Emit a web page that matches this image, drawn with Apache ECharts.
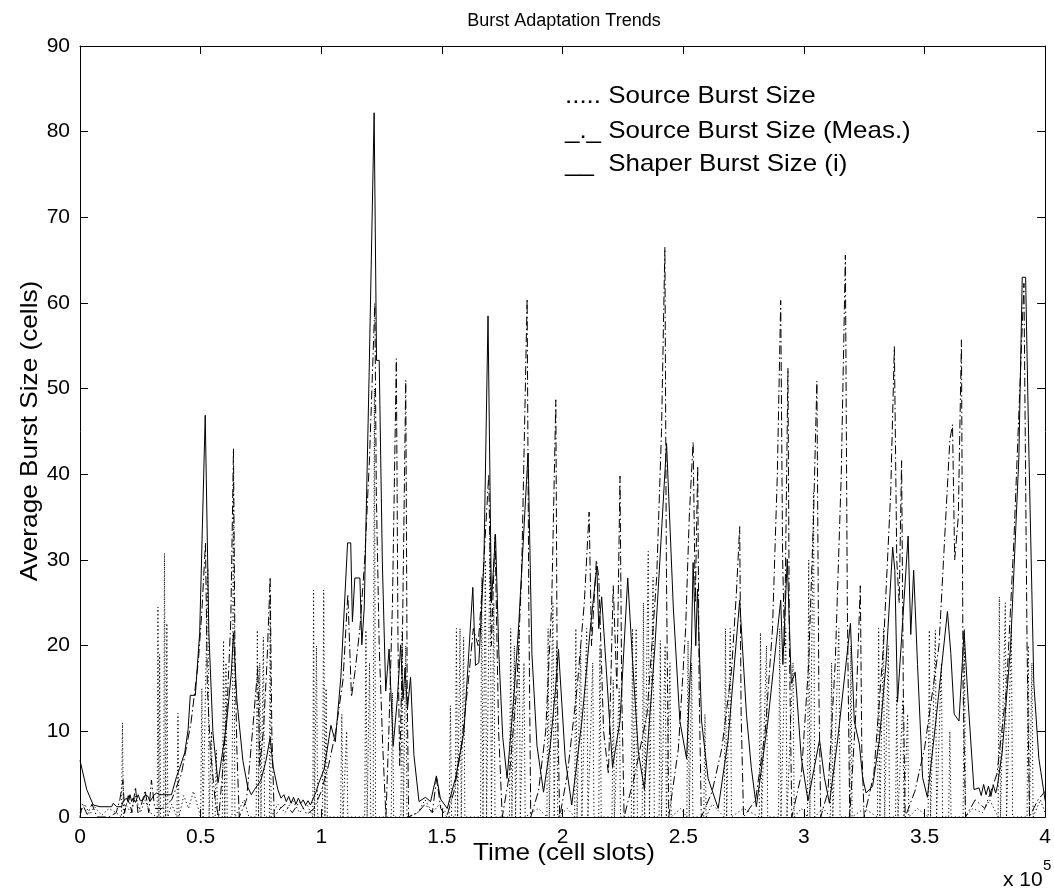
<!DOCTYPE html>
<html>
<head>
<meta charset="utf-8">
<script src="https://cdn.jsdelivr.net/npm/echarts@6/dist/echarts.min.js"></script>
<style>
html,body{margin:0;padding:0;background:#fff;}
#chart{width:1054px;height:892px;}
</style>
</head>
<body>
<div id="chart"></div>
<script>
// Time in units of 10^5 cell slots, burst size in cells
const titleText = 'Burst Adaptation Trends';
const xLabel = 'Time (cell slots)';
const yLabel = 'Average Burst Size (cells)';
const legendLines = ['..... Source Burst Size', '_._ Source Burst Size (Meas.)', '__  Shaper Burst Size (i)'];

// Source Burst Size (dotted)
const sourceBurst = [
 [0.00,0.5],[0.02,1.5],[0.04,0.3],[0.06,1.2],[0.09,0.2],[0.12,1.0],[0.150,0.5],
 [0.172,0],[0.176,11],[0.180,0],
 [0.19,1.5],[0.21,0.5],[0.23,2.5],[0.25,0.5],[0.27,2],[0.29,0.5],
 [0.320,0],[0.323,24.5],[0.327,0],[0.330,19],[0.334,0],[0.347,0],[0.350,30.8],[0.355,0],[0.360,22.6],[0.364,0],
 [0.38,1.5],[0.402,0],[0.406,12.1],[0.410,0],[0.43,2.5],[0.45,1],[0.47,3],
 [0.50,0],[0.505,15],[0.510,0],[0.530,29],[0.535,0],[0.545,10],[0.55,0],
 [0.560,0],[0.565,7.8],[0.570,0],
 [0.590,0],[0.595,20.6],[0.600,0],[0.605,18],[0.610,0],
 [0.630,0],[0.636,40],[0.642,0],
 [0.68,2],[0.700,0],[0.73,0],[0.735,21.8],[0.740,0],[0.745,18],[0.750,0],[0.760,21],[0.765,0],
 [0.785,0],[0.788,26],[0.792,0],
 [0.82,1.5],[0.85,0.5],[0.88,2],[0.91,0.5],[0.94,1.5],
 [0.965,0],[0.968,26.5],[0.972,0],[0.980,20],[0.985,0],[1.005,0],[1.010,26.5],[1.015,0],[1.020,15],[1.025,0],
 [1.08,0],[1.085,12],[1.09,0],[1.105,10],[1.11,0],
 [1.18,0],[1.185,21.8],[1.19,0],[1.20,18],[1.205,0],
 [1.215,0],[1.22,50],[1.225,0],
 [1.29,0],[1.295,14.5],[1.30,0],[1.33,0],[1.335,21.8],[1.34,0],[1.35,20],[1.355,0],
 [1.40,0.5],[1.43,2],[1.46,0.5],[1.49,1.5],
 [1.53,0],[1.535,13],[1.54,0],[1.555,0],[1.56,22],[1.565,0],[1.575,22],[1.58,0],[1.59,21],[1.595,0],
 [1.66,0],[1.665,28],[1.67,0],[1.68,30],[1.685,0],[1.70,33],[1.705,0],[1.715,25],[1.72,0],
 [1.78,0],[1.785,22],[1.79,0],[1.80,20],[1.805,0],[1.82,22],[1.825,0],[1.84,18],[1.845,0],
 [1.90,1],
 [1.935,0],[1.94,22],[1.945,0],[1.96,25],[1.965,0],[1.975,20],[1.98,0],
 [2.02,1],
 [2.05,0],[2.055,22],[2.06,0],[2.075,20],[2.08,0],[2.10,22],[2.105,0],[2.125,18],[2.13,0],
 [2.15,0],[2.155,20],[2.16,0],
 [2.205,0],[2.21,16],[2.215,0],[2.235,15],[2.24,0],
 [2.285,0],[2.29,22],[2.295,0],[2.305,22],[2.31,0],
 [2.33,0],[2.335,25],[2.34,0],[2.355,31],[2.36,0],[2.375,28],[2.38,0],
 [2.40,0],[2.405,20.6],[2.41,0],[2.425,20],[2.43,0],[2.445,18],[2.45,0],
 [2.49,1],
 [2.515,0],[2.52,20.6],[2.525,0],[2.535,18],[2.54,0],
 [2.585,0],[2.59,12],[2.595,0],
 [2.62,1.5],
 [2.67,0],[2.675,22],[2.68,0],[2.695,22],[2.70,0],
 [2.75,1],
 [2.815,0],[2.82,21.5],[2.825,0],[2.845,20],[2.85,0],
 [2.895,0],[2.90,22],[2.905,0],[2.925,22],[2.93,0],[2.955,18],[2.96,0],
 [2.99,1],
 [3.015,0],[3.02,30],[3.025,0],[3.04,38],[3.045,0],
 [3.08,1],
 [3.11,0],[3.115,18],[3.12,0],[3.145,22],[3.15,0],
 [3.19,0],[3.195,20],[3.20,0],
 [3.25,1],
 [3.305,0],[3.31,22],[3.315,0],[3.33,22],[3.335,0],[3.35,20],[3.355,0],
 [3.38,0],[3.385,14],[3.39,0],[3.41,13.7],[3.415,0],[3.43,12],[3.435,0],
 [3.47,1],
 [3.515,0],[3.52,21.8],[3.525,0],[3.545,21.8],[3.55,0],[3.57,18],[3.575,0],
 [3.60,0],[3.605,10],[3.61,0],
 [3.66,0],[3.665,22],[3.67,0],
 [3.70,1],[3.74,0.5],[3.77,2],
 [3.805,0],[3.81,25.7],[3.815,0],[3.835,25],[3.84,0],[3.86,22],[3.865,0],
 [3.925,0],[3.93,20],[3.935,0],[3.945,18],[3.95,0],
 [3.98,2],[4.00,0.5]
];

// Source Burst Size (Meas.) (dash-dot)
const measuredBurst = [
 [0.000,0],[0.010,1.5],[0.030,0.3],[0.050,1.5],[0.070,0],[0.120,0],[0.150,0.5],[0.165,2.0],[0.178,4.3],[0.185,0.5],
 [0.200,2.5],[0.215,0.5],[0.230,3.5],[0.240,0.5],[0.255,1.5],[0.270,3.1],[0.285,0.5],[0.296,4.3],[0.310,1],
 [0.340,1],[0.380,2],[0.420,5],[0.460,11],[0.490,18],[0.505,24],[0.520,32],[0.528,15],[0.540,8],[0.560,2],[0.575,0],
 [0.590,5],[0.610,13],[0.625,23],[0.636,43],[0.642,20],[0.650,8],[0.660,0],
 [0.690,2],[0.715,10],[0.737,17.5],[0.745,6],[0.760,10],[0.775,18],[0.788,28],[0.795,10],[0.805,0],
 [0.830,1],[0.850,1.5],[0.880,0.5],[0.910,1.8],[0.940,0.3],[0.970,1],
 [1.000,3],[1.030,6],[1.060,10],[1.090,16],[1.110,26],[1.125,14],[1.140,17],[1.160,22],[1.180,30],[1.200,42],
 [1.222,60],[1.228,38],[1.240,20],[1.255,8],[1.268,0],
 [1.280,10],[1.295,25],[1.311,53.5],[1.318,20],[1.325,6],[1.335,18],[1.350,51],[1.356,15],[1.362,0],
 [1.400,0.5],[1.430,1.5],[1.460,0.5],[1.478,4.5],[1.495,1],[1.520,0],
 [1.550,3],[1.580,8],[1.610,16],[1.630,22],[1.650,20],[1.670,28],[1.694,40],[1.705,20],[1.720,33],[1.735,10],[1.750,0],
 [1.780,5],[1.810,15],[1.830,28],[1.853,60.5],[1.860,25],[1.868,0],
 [1.900,3],[1.930,10],[1.955,25],[1.972,48.7],[1.978,15],[1.988,0],
 [2.020,5],[2.060,15],[2.090,25],[2.110,35.6],[2.120,20],[2.140,30],[2.150,28],[2.170,10],[2.190,5],
 [2.210,27],[2.225,15],[2.238,39.8],[2.245,15],[2.255,0],
 [2.300,5],[2.350,12],[2.390,28],[2.410,45],[2.424,66.5],[2.430,30],[2.440,0],
 [2.480,8],[2.510,22],[2.525,35],[2.541,43.8],[2.550,25],[2.560,41],[2.566,15],[2.575,0],
 [2.620,3],[2.660,8],[2.700,17],[2.720,26],[2.734,33.9],[2.740,12],[2.750,0],
 [2.800,2],[2.840,10],[2.870,22],[2.890,40],[2.904,60.3],[2.912,30],[2.920,20],[2.934,52.4],[2.940,20],[2.950,0],
 [2.990,5],[3.020,18],[3.040,35],[3.054,50.9],[3.062,15],[3.070,0],
 [3.100,3],[3.130,18],[3.155,40],[3.172,65.6],[3.180,25],[3.190,0],
 [3.215,12],[3.234,27],[3.240,8],[3.250,0],
 [3.290,5],[3.330,20],[3.360,38],[3.375,54.9],[3.385,30],[3.395,25],[3.405,41.6],[3.412,15],[3.420,0],
 [3.460,3],[3.500,8],[3.560,20],[3.590,36],[3.605,44],[3.616,45.8],[3.625,30],[3.640,35],[3.653,55.7],[3.660,15],[3.670,0],
 [3.710,2],[3.750,1],[3.800,5],[3.840,15],[3.870,32],[3.895,50],[3.912,62.3],[3.925,20],[3.935,0],
 [3.970,2],[4.000,3]
];

// Shaper Burst Size (i) (solid)
const shaperBurst = [
 [0.000,6.6],[0.028,3.2],[0.055,1.4],[0.083,1.2],[0.131,1.2],[0.138,1.6],[0.152,1.2],[0.172,1.2],[0.180,1.9],[0.193,2.2],
 [0.200,1.7],[0.207,2.6],[0.214,1.8],[0.220,2.2],[0.230,1.7],[0.241,2.6],[0.250,1.9],[0.262,2.0],[0.270,2.6],[0.282,2.4],
 [0.290,1.8],[0.296,2.0],[0.305,2.5],[0.317,2.8],[0.331,2.6],[0.379,2.6],[0.400,4.7],[0.413,5.7],[0.434,7.5],[0.448,10.2],
 [0.457,14.2],[0.478,14.2],[0.496,21.5],[0.519,46.9],[0.534,21.5],[0.551,9.8],[0.572,4.0],[0.606,10.5],[0.627,16.8],
 [0.636,21.5],[0.650,13.7],[0.675,6.6],[0.695,3.5],[0.710,2.6],[0.723,3.2],[0.750,4.3],[0.771,6.6],[0.788,9.3],[0.800,5.9],
 [0.820,3.2],[0.833,2.2],[0.845,2.6],[0.855,1.8],[0.865,2.4],[0.875,1.6],[0.885,2.3],[0.895,1.5],[0.905,2.2],[0.915,1.6],
 [0.925,2.0],[0.935,1.4],[0.945,1.9],[0.955,1.4],[0.964,2.0],[0.978,2.9],[0.990,4.0],[1.012,5.6],[1.040,10.7],[1.058,8.8],
 [1.081,16.3],[1.109,32],[1.122,32],[1.129,22.8],[1.139,27.9],[1.160,27.9],[1.168,20.1],[1.178,24.4],[1.198,51.4],
 [1.219,82.2],[1.229,53.3],[1.240,53.3],[1.253,29.8],[1.267,14.7],[1.281,19.6],[1.298,8.3],[1.315,13.7],[1.329,20.1],
 [1.339,13.7],[1.347,17.4],[1.357,12.6],[1.370,16.3],[1.384,7.2],[1.405,1.8],[1.432,2.3],[1.453,1.8],[1.477,4.8],
 [1.494,2.1],[1.522,1.0],[1.556,4.5],[1.591,9.9],[1.628,26.8],[1.639,17.7],[1.653,18],[1.674,29.8],[1.691,58.5],
 [1.705,25],[1.722,33],[1.736,19],[1.752,9.3],[1.770,4.5],[1.797,13.7],[1.818,22.3],[1.857,42.5],[1.873,19],[1.894,8.3],
 [1.921,2.9],[1.949,8.3],[1.970,14.7],[1.983,19.6],[2.011,6.8],[2.038,1.4],[2.080,11.2],[2.114,21.7],[2.142,29.3],
 [2.150,22],[2.162,25.7],[2.207,5.8],[2.238,11.2],[2.270,27.9],[2.289,18.7],[2.314,7.6],[2.339,3.2],[2.383,20],
 [2.431,43.6],[2.459,24.4],[2.486,11.2],[2.514,6.8],[2.534,20],[2.541,29.7],[2.552,20],[2.559,26.6],[2.576,11.2],
 [2.603,4.5],[2.645,1.0],[2.686,9],[2.734,25.3],[2.762,12],[2.782,5.8],[2.803,1.2],[2.851,11.2],[2.904,25.3],[2.913,17.8],
 [2.931,30.1],[2.948,15.6],[2.964,16.9],[2.989,7],[3.017,1.9],[3.044,5.9],[3.065,9.0],[3.085,4.6],[3.106,1.6],[3.140,9],
 [3.193,22.6],[3.209,11.2],[3.230,8.5],[3.244,4.5],[3.258,2.8],[3.285,3.6],[3.313,9],[3.340,17.8],[3.368,31.5],[3.377,28.8],
 [3.388,13.4],[3.413,24.4],[3.432,32.8],[3.443,21.3],[3.455,28.8],[3.471,17.8],[3.492,4.6],[3.512,2.3],[3.547,11.2],
 [3.595,24],[3.609,19.1],[3.623,12],[3.643,11.2],[3.664,21.7],[3.681,13.4],[3.705,3.2],[3.726,3.4],[3.735,2.5],[3.745,3.8],
 [3.755,2.6],[3.765,3.6],[3.775,2.4],[3.785,3.7],[3.795,2.8],[3.802,3.6],[3.822,7.6],[3.857,20],[3.891,42],[3.905,63],
 [3.919,63],[3.933,42],[3.953,15.6],[3.974,6.8],[4.000,1.9]
];

const FONT = '"Liberation Sans", Arial, Helvetica, sans-serif';
const chart = echarts.init(document.getElementById('chart'), null, {renderer: 'canvas'});

const axisCommon = {
  type: 'value',
  axisLine: {show: true, onZero: false, lineStyle: {color: '#000', width: 1}},
  axisTick: {show: true, inside: true, length: 8, lineStyle: {color: '#000', width: 1}},
  splitLine: {show: false},
  axisLabel: {color: '#000', fontSize: 21, fontFamily: FONT, margin: 10}
};

function label(text, x, y, size, opts) {
  return Object.assign({type: 'text', x: x, y: y,
    style: {text: text, fill: '#000', font: size + 'px ' + FONT, align: 'left', verticalAlign: 'middle'}}, opts || {});
}

chart.setOption({
  animation: false,
  backgroundColor: '#fff',
  grid: {left: 80, right: 6, top: 46, bottom: 75, containLabel: false},
  xAxis: [
    Object.assign({}, axisCommon, {min: 0, max: 4, interval: 0.5, position: 'bottom'}),
    Object.assign({}, axisCommon, {min: 0, max: 4, interval: 0.5, position: 'top', axisLabel: {show: false}})
  ],
  yAxis: [
    Object.assign({}, axisCommon, {min: 0, max: 90, interval: 10, position: 'left'}),
    Object.assign({}, axisCommon, {min: 0, max: 90, interval: 10, position: 'right', axisLabel: {show: false}})
  ],
  series: [
    {name: 'Source Burst Size', type: 'line', data: sourceBurst, showSymbol: false, symbol: 'none',
     lineStyle: {color: '#000', width: 1, type: [1.2, 2.6]}, z: 1},
    {name: 'Source Burst Size (Meas.)', type: 'line', data: measuredBurst, showSymbol: false, symbol: 'none',
     lineStyle: {color: '#000', width: 1, type: [9, 3, 1.5, 3]}, z: 2},
    {name: 'Shaper Burst Size (i)', type: 'line', data: shaperBurst, showSymbol: false, symbol: 'none',
     lineStyle: {color: '#000', width: 1, type: 'solid'}, z: 3}
  ],
  graphic: [
    {type: 'text', x: 564, y: 21, style: {text: titleText, fill: '#000', font: '18px ' + FONT, align: 'center', verticalAlign: 'middle'}},
    {type: 'text', x: 564, y: 853, scaleX: 1.09, style: {text: xLabel, fill: '#000', font: '24px ' + FONT, align: 'center', verticalAlign: 'middle'}},
    {type: 'text', x: 30, y: 431, rotation: Math.PI / 2, scaleX: 1.09, style: {text: yLabel, fill: '#000', font: '24px ' + FONT, align: 'center', verticalAlign: 'middle'}},
    label('x 10', 1003, 880, 21),
    label('5', 1043, 866, 15),
    label(legendLines[0], 565, 96, 24, {scaleX: 1.08}),
    label(legendLines[1], 565, 131, 24, {scaleX: 1.08}),
    label(legendLines[2], 565, 164, 24, {scaleX: 1.08})
  ]
});
</script>
</body>
</html>
